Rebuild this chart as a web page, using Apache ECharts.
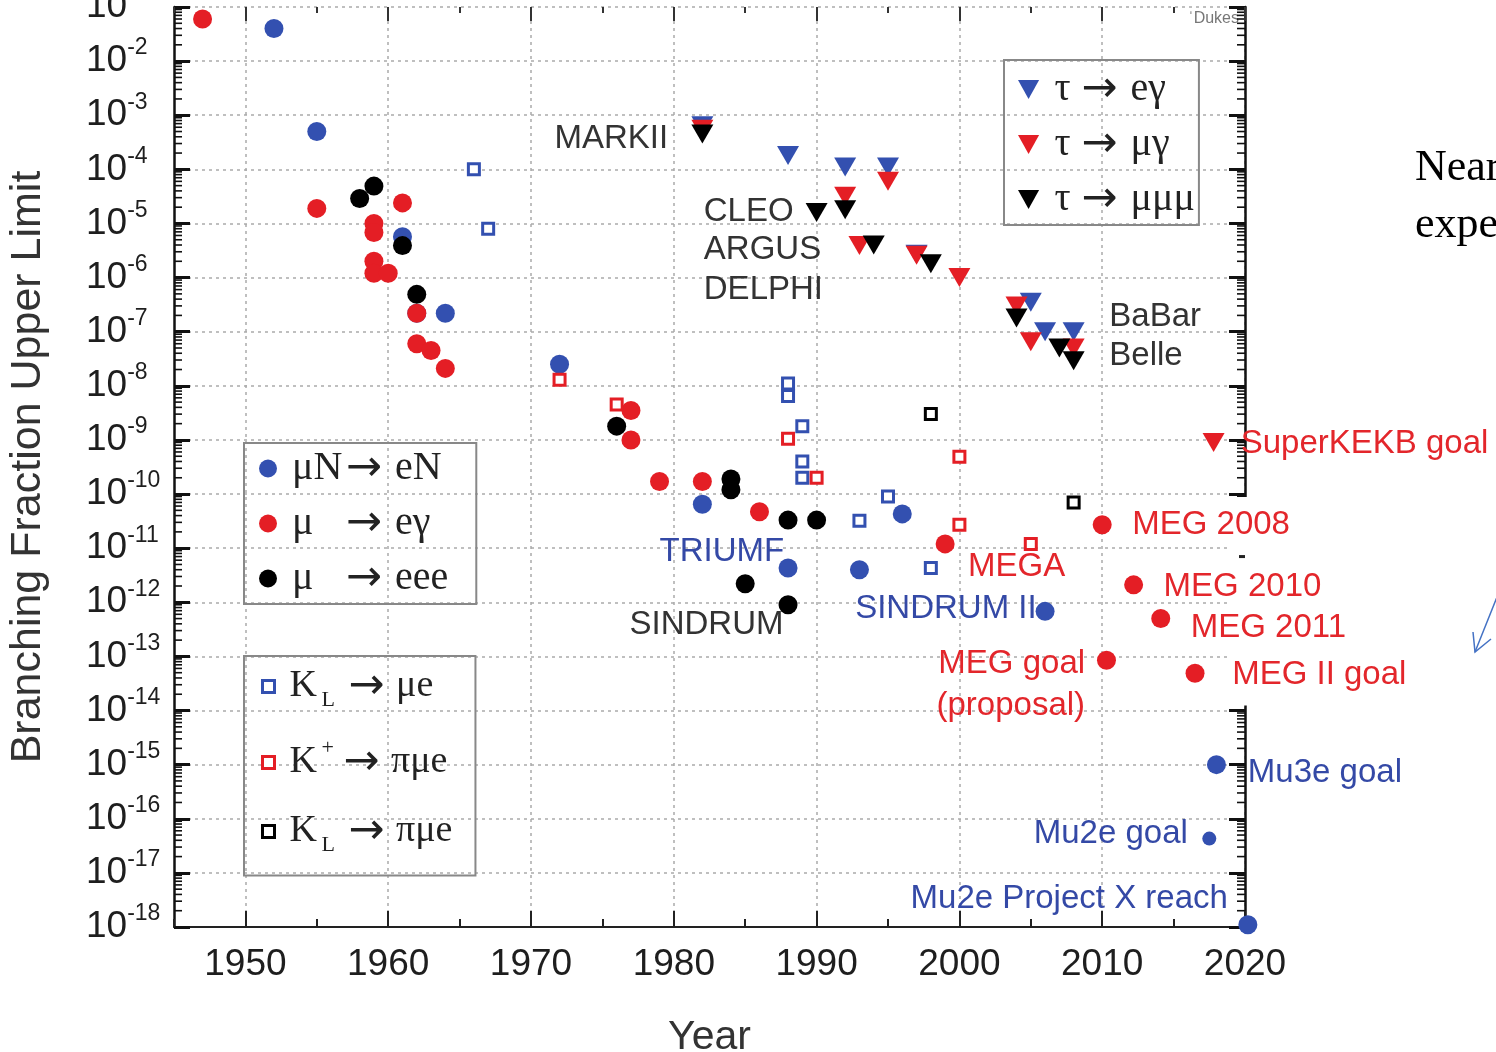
<!DOCTYPE html>
<html><head><meta charset="utf-8">
<script src="https://cdn.jsdelivr.net/npm/echarts@6/dist/echarts.min.js"></script>
<style>html,body{margin:0;padding:0;background:#fff}#c{width:1496px;height:1052px}</style>
</head><body><div id="c"></div>
<script>
// ---------------- data ----------------
const X_MIN = 1945, X_MAX = 2020;
const Y_MIN = 1e-18, Y_MAX = 1e-1;
const xTickYears = [1950, 1960, 1970, 1980, 1990, 2000, 2010, 2020];
const yDecadeExps = [-18,-17,-16,-15,-14,-13,-12,-11,-10,-9,-8,-7,-6,-5,-4,-3,-2,-1];

// mu N -> e N (blue circles)
const muNeN_years = [1952, 1955, 1961, 1962, 1964, 1972, 1982, 1988, 1993, 1996, 2006, 2018, 2017.5, 2020.2];
const muNeN_vals  = [4e-2, 5e-4, 5.7e-6, 2.2e-7, 2.2e-7, 2.5e-8, 6.5e-11, 4.3e-12, 4e-12, 4.3e-11, 6.8e-13, 1e-15, 4.3e-17, 1.1e-18];
// mu -> e gamma (red circles)
const muEg_years = [1947, 1955, 1959, 1959, 1961, 1959, 1959, 1960, 1962, 1962, 1963, 1964, 1977, 1977, 1979, 1982, 1986, 1999, 2010, 2012.2, 2014.1, 2010.3, 2016.5];
const muEg_vals  = [6e-2, 1.9e-5, 1e-5, 6.8e-6, 2.4e-5, 2e-6, 1.2e-6, 1.2e-6, 2.2e-7, 6e-8, 4.5e-8, 2.1e-8, 3.5e-9, 1e-9, 1.7e-10, 1.7e-10, 4.7e-11, 1.2e-11, 2.7e-11, 2.1e-12, 5e-13, 8.5e-14, 4.9e-14];
// mu -> eee (black circles)
const muEee_years = [1958, 1959, 1961, 1962, 1976, 1984, 1984, 1985, 1988, 1990, 1988];
const muEee_vals  = [2.9e-5, 4.9e-5, 3.9e-6, 4.9e-7, 1.8e-9, 1.9e-10, 1.2e-10, 2.2e-12, 3.3e-11, 3.3e-11, 9e-13];
// tau -> e gamma (blue triangles)
const tauEg_years = [1982, 1988, 1992, 1995, 1997, 2005, 2006, 2008];
const tauEg_vals  = [6.4e-4, 1.8e-4, 1.1e-4, 1.1e-4, 2.7e-6, 3.5e-7, 1e-7, 1e-7];
// tau -> mu gamma (red triangles)
const tauMg_years = [1982, 1992, 1995, 1993, 1997, 2000, 2004, 2005, 2008, 2017.8];
const tauMg_vals  = [5.5e-4, 3.2e-5, 6e-5, 3.9e-6, 2.6e-6, 1e-6, 3e-7, 6.5e-8, 5e-8, 9e-10];
// tau -> mu mu mu (black triangles)
const tauMmm_years = [1982, 1990, 1992, 1994, 1998, 2004, 2007, 2008];
const tauMmm_vals  = [4.5e-4, 1.6e-5, 1.8e-5, 4e-6, 1.8e-6, 1.8e-7, 5e-8, 2.9e-8];
// K_L -> mu e (blue squares)
const kLme_years = [1966, 1967, 1988, 1988, 1989, 1989, 1989, 1993, 1995, 1998];
const kLme_vals  = [1e-4, 8e-6, 1.1e-8, 6.5e-9, 1.8e-9, 4e-10, 2e-10, 3.2e-11, 9e-11, 4.3e-12];
// K+ -> pi mu e (red squares)
const kPpme_years = [1972, 1976, 1988, 1990, 2000, 2000, 2005];
const kPpme_vals  = [1.3e-8, 4.5e-9, 1.05e-9, 2e-10, 4.9e-10, 2.7e-11, 1.2e-11];
// K_L -> pi mu e (black squares)
const kLpme_years = [1998, 2008];
const kLpme_vals  = [3e-9, 7e-11];

// annotations (text, anchor year, anchor value)
const annoTexts = ['MARKII','CLEO','ARGUS','DELPHI','BaBar','Belle','SuperKEKB goal','MEG 2008','MEG 2010','MEG 2011','MEG II goal','MEG goal','(proposal)','MEGA','TRIUMF','SINDRUM','SINDRUM II','Mu3e goal','Mu2e goal','Mu2e Project X reach'];
const annoYears = [1979.6, 1982.1, 1982.1, 1982.1, 2010.5, 2010.5, 2019.7, 2012.1, 2014.3, 2016.2, 2019.1, 2008.8, 2003.6, 2000.6, 1979.0, 1976.9, 1992.7, 2020.2, 2016.0, 2018.8];
const annoVals  = [3.6e-4, 1.66e-5, 3.2e-6, 6e-7, 1.9e-7, 3.6e-8, 8.5e-10, 2.7e-11, 1.9e-12, 3.3e-13, 4.5e-14, 7.4e-14, 1.2e-14, 4.5e-12, 8.5e-12, 3.9e-13, 7.4e-13, 7e-16, 5.2e-17, 3.3e-18];

// ---------------- styles ----------------
const BLUE = '#3350b0', RED = '#e41e25', BLACK = '#000000';
const TXT_RED = '#e3262b', TXT_BLUE = '#3449a6', TXT_DARK = '#333333';
const TRI = 'path://M0,0L20,0L10,18Z';
const SANS = 'Liberation Sans', SERIF = 'Liberation Serif';
const annoRightAligned = {'MARKII':1, 'MEG goal':1, 'Mu2e goal':1, 'Mu2e Project X reach':1};
const annoCentered = {'(proposal)':1};
const annoRed = {'SuperKEKB goal':1,'MEG 2008':1,'MEG 2010':1,'MEG 2011':1,'MEG II goal':1,'MEG goal':1,'(proposal)':1,'MEGA':1};
const annoBlue = {'TRIUMF':1,'SINDRUM II':1,'Mu3e goal':1,'Mu2e goal':1,'Mu2e Project X reach':1};

function pts(xs, ys) { return xs.map((x, i) => [x, ys[i]]); }

const chart = echarts.init(document.getElementById('c'));

const minorTickData = [];
for (let e = -18; e < -1; e++) for (let m = 2; m <= 9; m++) minorTickData.push([X_MIN, m * Math.pow(10, e)]);

const yTickVals = yDecadeExps.map(e => Math.pow(10, e));
const grid = { left: 174, right: 251, top: 7, bottom: 125, containLabel: false, outerBoundsMode: 'none' };

function circleSeries(name, xs, ys, color) {
  return { name, type: 'scatter', clip: false, symbol: 'circle',
    symbolSize: (v) => (v[1] < 1e-16 && v[1] > 1e-17) ? 14 : 19,
    itemStyle: { color, opacity: 1 }, data: pts(xs, ys) };
}
function triSeries(name, xs, ys, color) {
  return { name, type: 'scatter', clip: false, symbol: TRI, symbolSize: [22, 19],
    itemStyle: { color, opacity: 1 }, data: pts(xs, ys) };
}
function squareSeries(name, xs, ys, color) {
  return { name, type: 'scatter', clip: false, symbol: 'rect', symbolSize: 11,
    itemStyle: { color: '#fff', borderColor: color, borderWidth: 3, opacity: 1 }, data: pts(xs, ys) };
}

const INK = '#222';
const legendText = { fontFamily: SERIF, fontSize: 40, color: INK,
  rich: {
    sp: { width: 10, fontSize: 38, fontFamily: SERIF, lineHeight: 42 },
    a: { width: 54, fontSize: 40, fontFamily: SERIF, color: INK, lineHeight: 42 },
    arw: { fontFamily: 'DejaVu Sans', fontSize: 43, color: INK, lineHeight: 42 },
    r: { fontSize: 40, fontFamily: SERIF, color: INK, lineHeight: 42, padding: [0, 0, 0, 3] },
    k: { width: 32, fontSize: 38, fontFamily: SERIF, color: INK, lineHeight: 44 },
    sub: { width: 27, fontSize: 22, fontFamily: SERIF, color: INK, padding: [28, 0, 0, 0] },
    sup: { width: 22, fontSize: 22, fontFamily: SERIF, color: INK, padding: [0, 0, 28, 0] },
    r2: { fontSize: 38, fontFamily: SERIF, color: INK, lineHeight: 44, padding: [0, 0, 0, 2] },
    t: { width: 27, fontSize: 40, fontFamily: SERIF, color: INK, lineHeight: 42 }
  } };
const legendFmt = {
  'μN→eN': '{sp|}{a|μN}{arw|→}{r| eN}',
  'μ→eγ': '{sp|}{a|μ}{arw|→}{r| eγ}',
  'μ→eee': '{sp|}{a|μ}{arw|→}{r| eee}',
  'KL→μe': '{sp|}{k|K}{sub|L}{arw|→}{r2| μe}',
  'K+→πμe': '{sp|}{k|K}{sup|+}{arw|→}{r2| πμe}',
  'KL→πμe': '{sp|}{k|K}{sub|L}{arw|→}{r2| πμe}',
  'τ→eγ': '{sp|}{t|τ}{arw|→}{r| eγ}',
  'τ→μγ': '{sp|}{t|τ}{arw|→}{r| μγ}',
  'τ→μμμ': '{sp|}{t|τ}{arw|→}{r| μμμ}'
};

const option = {
  backgroundColor: '#fff',
  animation: false,
  grid,
  legend: [
    { data: ['μN→eN', 'μ→eγ', 'μ→eee'], orient: 'vertical', left: 244, top: 443,
      padding: [4, 28, 4, 15], itemGap: 12, itemWidth: 18, itemHeight: 18,
      borderColor: '#888', borderWidth: 2, selectedMode: false,
      textStyle: legendText, formatter: n => legendFmt[n] },
    { data: [
        { name: 'KL→μe', icon: 'rect', itemStyle: { color: '#fff', borderColor: BLUE, borderWidth: 3 } },
        { name: 'K+→πμe', icon: 'rect', itemStyle: { color: '#fff', borderColor: RED, borderWidth: 3 } },
        { name: 'KL→πμe', icon: 'rect', itemStyle: { color: '#fff', borderColor: BLACK, borderWidth: 3 } }],
      orient: 'vertical', left: 244, top: 656,
      padding: [9, 23, 19, 17], itemGap: 26, itemWidth: 12, itemHeight: 12,
      borderColor: '#888', borderWidth: 2, selectedMode: false,
      textStyle: legendText, formatter: n => legendFmt[n] },
    { data: [
        { name: 'τ→eγ', icon: TRI }, { name: 'τ→μγ', icon: TRI }, { name: 'τ→μμμ', icon: TRI }],
      orient: 'vertical', left: 1004, top: 60,
      padding: [8, 4, 4, 14], itemGap: 12, itemWidth: 22, itemHeight: 19,
      borderColor: '#888', borderWidth: 2, selectedMode: false,
      textStyle: legendText, formatter: n => legendFmt[n] }
  ],
  xAxis: [
    { type: 'value', min: X_MIN, max: X_MAX, position: 'bottom',
      name: 'Year', nameLocation: 'middle', nameGap: 90,
      nameTextStyle: { fontFamily: SANS, fontSize: 41, color: '#333' },
      axisLine: { onZero: false, lineStyle: { color: '#222', width: 2 } },
      axisTick: { inside: true, length: 16, customValues: xTickYears, lineStyle: { color: '#222', width: 2 } },
      axisLabel: { customValues: xTickYears, margin: 19, fontFamily: SANS, fontSize: 37, color: '#1e1e1e',
        formatter: v => String(Math.round(v)) },
      splitLine: { show: true, lineStyle: { type: [3, 4], color: '#aaaaaa', width: 1.5 } } },
    { type: 'value', min: X_MIN, max: X_MAX, interval: 5, position: 'bottom',
      axisLine: { show: false, onZero: false },
      axisTick: { inside: true, length: 8, lineStyle: { color: '#222', width: 2 } },
      axisLabel: { show: false }, splitLine: { show: false } },
    { type: 'value', min: X_MIN, max: X_MAX, position: 'top',
      axisLine: { show: false, onZero: false },
      axisTick: { inside: true, length: 14, customValues: xTickYears, lineStyle: { color: '#333', width: 2 } },
      axisLabel: { show: false }, splitLine: { show: false } },
    { type: 'value', min: X_MIN, max: X_MAX, interval: 5, position: 'top',
      axisLine: { show: false, onZero: false },
      axisTick: { inside: true, length: 6, lineStyle: { color: '#333', width: 2 } },
      axisLabel: { show: false }, splitLine: { show: false } }
  ],
  yAxis: [
    { type: 'log', logBase: 10, min: Y_MIN, max: Y_MAX, position: 'left',
      name: 'Branching Fraction Upper Limit', nameLocation: 'middle', nameGap: 124,
      nameTextStyle: { fontFamily: SANS, fontSize: 43, color: '#333' },
      axisLine: { onZero: false, lineStyle: { color: '#111', width: 2.5 } },
      axisTick: { inside: true, length: 16, customValues: yTickVals, lineStyle: { color: '#111', width: 3 } },
      axisLabel: { customValues: yTickVals, align: 'left', margin: 88,
        formatter: v => '{b|10}{e|' + Math.round(Math.log10(v)) + '}',
        rich: { b: { fontFamily: SANS, fontSize: 37, color: '#1e1e1e' },
                e: { fontFamily: SANS, fontSize: 23, color: '#1e1e1e', padding: [0, 0, 26, 0] } } },
      splitLine: { show: true, lineStyle: { type: [3, 4], color: '#aaaaaa', width: 1.5 } } },
    { type: 'log', logBase: 10, min: Y_MIN, max: Y_MAX, position: 'right',
      axisLine: { onZero: false, lineStyle: { color: '#111', width: 2.5 } },
      axisTick: { inside: true, length: 16, customValues: yTickVals, lineStyle: { color: '#111', width: 3 } },
      axisLabel: { show: false }, splitLine: { show: false } }
  ],
  series: [
    { type: 'custom', z: 0, silent: true, clip: false, data: minorTickData,
      renderItem: (params, api) => {
        const v = api.value(1);
        const l = api.coord([X_MIN, v]), r = api.coord([X_MAX, v]);
        return { type: 'group', children: [
          { type: 'line', shape: { x1: l[0], y1: l[1], x2: l[0] + 8, y2: l[1] }, style: { stroke: '#111', lineWidth: 1.6 } },
          { type: 'line', shape: { x1: r[0] - 8, y1: r[1], x2: r[0], y2: r[1] }, style: { stroke: '#111', lineWidth: 1.6 } }
        ] };
      } },
    circleSeries('μN→eN', muNeN_years, muNeN_vals, BLUE),
    circleSeries('μ→eγ', muEg_years, muEg_vals, RED),
    circleSeries('μ→eee', muEee_years, muEee_vals, BLACK),
    triSeries('τ→eγ', tauEg_years, tauEg_vals, BLUE),
    triSeries('τ→μγ', tauMg_years, tauMg_vals, RED),
    triSeries('τ→μμμ', tauMmm_years, tauMmm_vals, BLACK),
    squareSeries('KL→μe', kLme_years, kLme_vals, BLUE),
    squareSeries('K+→πμe', kPpme_years, kPpme_vals, RED),
    squareSeries('KL→πμe', kLpme_years, kLpme_vals, BLACK),
    { type: 'scatter', z: 6, clip: false, silent: true, symbolSize: 1,
      itemStyle: { color: 'rgba(0,0,0,0)', opacity: 1 },
      data: annoTexts.map((t, i) => ({
        value: [annoYears[i], annoVals[i]],
        label: { show: true, formatter: t, position: 'inside', opacity: 1,
          align: annoRightAligned[t] ? 'right' : (annoCentered[t] ? 'center' : 'left'),
          verticalAlign: 'middle', fontFamily: SANS, fontSize: 33,
          color: annoRed[t] ? TXT_RED : (annoBlue[t] ? TXT_BLUE : TXT_DARK) } })) }
  ],
  graphic: [
    { type: 'text', x: 1415, y: 168, style: { text: 'Near', font: '44px "Liberation Serif"', fill: '#000', verticalAlign: 'middle' } },
    { type: 'text', x: 1415, y: 225, style: { text: 'expe', font: '44px "Liberation Serif"', fill: '#000', verticalAlign: 'middle' } },
    { type: 'polyline', shape: { points: [[1497, 597], [1475, 652]] }, style: { stroke: '#4472c4', lineWidth: 1.5, fill: null } },
    { type: 'polyline', shape: { points: [[1473, 632], [1475, 652], [1491, 639]] }, style: { stroke: '#4472c4', lineWidth: 1.5, fill: null } },
    { type: 'text', right: 257, top: 11, style: { text: '\u02c8Dukes', font: '16px "Liberation Sans"', fill: '#777' } }
  ]
};
chart.setOption(option);

// hide the right axis where the original figure's labels cover it
const xr = chart.convertToPixel({ xAxisIndex: 0 }, X_MAX);
const yA = chart.convertToPixel({ yAxisIndex: 0 }, 1e-10);
const yB = chart.convertToPixel({ yAxisIndex: 0 }, 1e-14);
const yT = chart.convertToPixel({ yAxisIndex: 0 }, 7e-12);
chart.setOption({ graphic: option.graphic.concat([
  { type: 'rect', z: 1, shape: { x: xr - 18, y: yA + 3, width: 23, height: yB - yA - 8 }, style: { fill: '#fff' } },
  { type: 'line', z: 1, shape: { x1: xr - 6, y1: yT, x2: xr, y2: yT }, style: { stroke: '#222', lineWidth: 3 } }
]) });
</script>
</body></html>
